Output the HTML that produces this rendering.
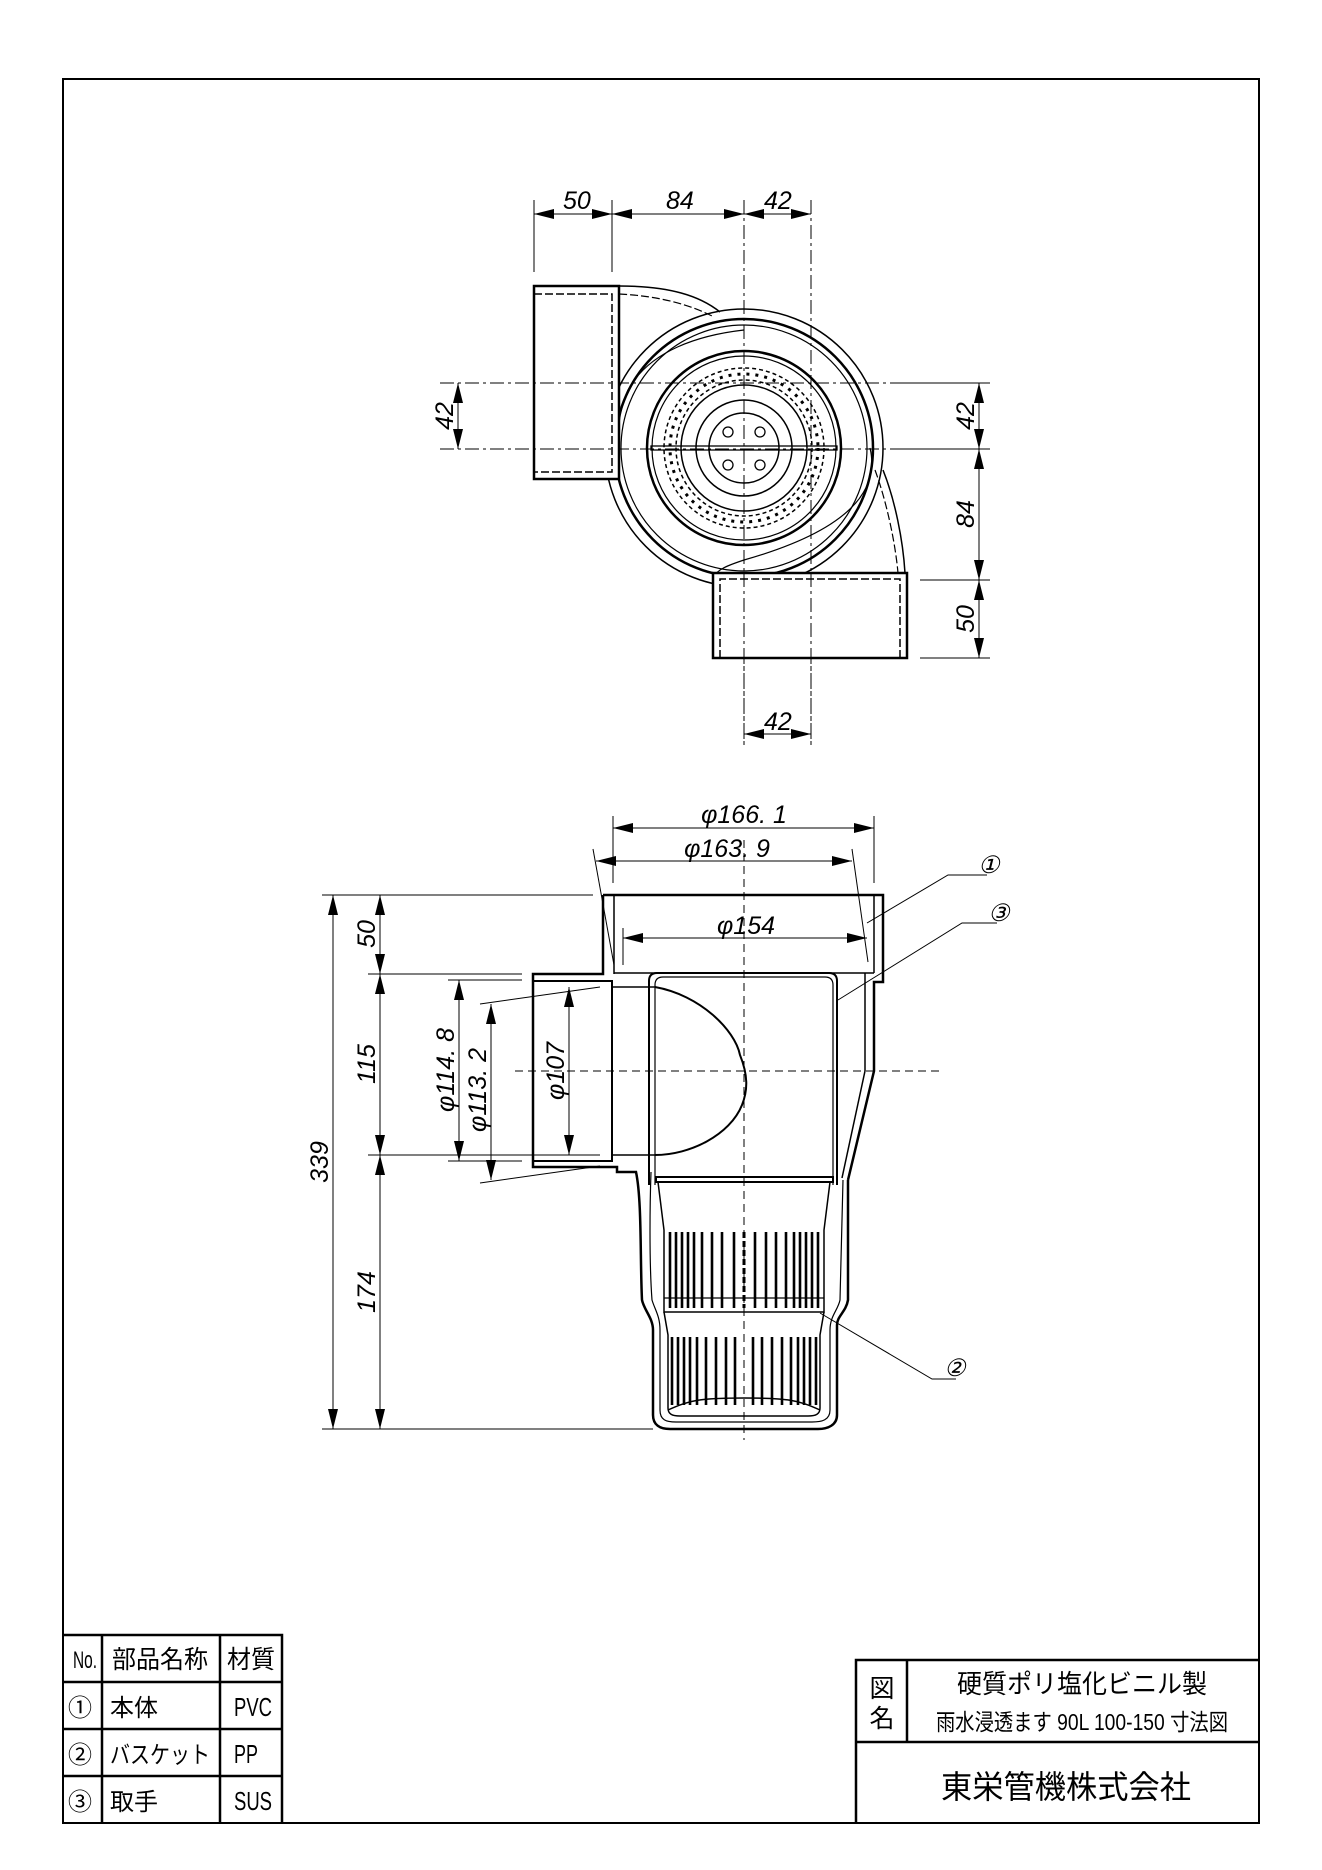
<!DOCTYPE html>
<html><head><meta charset="utf-8"><style>
html,body{margin:0;padding:0;background:#fff}
svg{display:block}
.t{font-family:"Liberation Sans",sans-serif;font-style:italic;font-size:25px;fill:#000}
.j{font-family:"Liberation Sans","Noto Sans CJK JP",sans-serif;fill:#000}
</style></head><body>
<svg width="1322" height="1870" viewBox="0 0 1322 1870" xmlns="http://www.w3.org/2000/svg">
<defs>
<marker id="a" viewBox="0 0 20 10" refX="20" refY="5" markerWidth="20" markerHeight="10" markerUnits="userSpaceOnUse" orient="auto-start-reverse"><path d="M0,0 L20,5 L0,10 z" fill="#000"/></marker>
</defs>
<rect x="63" y="79" width="1196" height="1744" fill="none" stroke="#000" stroke-width="2"/>

<g fill="none" stroke="#000">
<line x1="440" y1="449" x2="990" y2="449" stroke-width="1" stroke-dasharray="14,4,3,4"/>
<line x1="440" y1="383" x2="990" y2="383" stroke-width="1" stroke-dasharray="14,4,3,4"/>
<line x1="744" y1="200" x2="744" y2="745" stroke-width="1" stroke-dasharray="14,4,3,4"/>
<line x1="811" y1="200" x2="811" y2="745" stroke-width="1" stroke-dasharray="14,4,3,4"/>
<line x1="900" y1="383" x2="990" y2="383" stroke-width="1"/>
<line x1="900" y1="449" x2="990" y2="449" stroke-width="1"/>
<line x1="920" y1="580" x2="990" y2="580" stroke-width="1"/>
<line x1="920" y1="658" x2="990" y2="658" stroke-width="1"/>
<line x1="534" y1="200" x2="534" y2="272" stroke-width="1"/>
<line x1="612" y1="200" x2="612" y2="272" stroke-width="1"/>
<path d="M619,286 C670,286 700,296 720,312" stroke-width="1.5"/>
<path d="M619,294 C660,296 690,305 712,316" stroke-width="1.2" stroke-dasharray="8,3"/>
<path d="M883,470 C895,500 903,540 905,573" stroke-width="1.5"/>
<path d="M875,470 C886,500 895,540 898,573" stroke-width="1.2" stroke-dasharray="8,3"/>
<circle cx="744" cy="448" r="139" stroke-width="1.5"/>
<circle cx="744" cy="448" r="129" stroke-width="2.5"/>
<circle cx="744" cy="448" r="123" stroke-width="1.2"/>
<path d="M744,330 C700,335 650,350 628,390 C615,420 620,440 614,460" stroke-width="1.2"/>
<path d="M870,448 C880,490 850,530 744,560 C720,568 720,570 714,575" stroke-width="1.2"/>
<circle cx="744" cy="448" r="97" stroke-width="2.5"/>
<circle cx="744" cy="448" r="92" stroke-width="1.2"/>
<circle cx="744" cy="448" r="80" stroke-width="1.5" stroke-dasharray="4,3"/>
<circle cx="744" cy="448" r="74" stroke-width="3" stroke-dasharray="3,6"/>
<circle cx="744" cy="448" r="68" stroke-width="1.5" stroke-dasharray="4,3"/>
<circle cx="744" cy="448" r="63" stroke-width="1.5"/>
<circle cx="744" cy="448" r="48" stroke-width="1.5"/>
<circle cx="744" cy="448" r="35" stroke-width="1.5"/>
<circle cx="728" cy="432" r="5" stroke-width="1.3"/>
<circle cx="760" cy="432" r="5" stroke-width="1.3"/>
<circle cx="728" cy="465" r="5" stroke-width="1.3"/>
<circle cx="760" cy="465" r="5" stroke-width="1.3"/>
<rect x="651" y="446" width="186" height="4" stroke-width="1.3"/>
<rect x="534" y="286" width="85" height="193" fill="#fff" stroke-width="2.5"/>
<path d="M534,294 H612 V472 H534" stroke-width="1.5" stroke-dasharray="8,3"/>
<rect x="713" y="573" width="194" height="85" fill="#fff" stroke-width="2.5"/>
<path d="M720,658 V579 H900 V658" stroke-width="1.5" stroke-dasharray="8,3"/>
<line x1="744" y1="573" x2="744" y2="745" stroke-width="1" stroke-dasharray="14,4,3,4"/>
<line x1="811" y1="573" x2="811" y2="745" stroke-width="1" stroke-dasharray="14,4,3,4"/>
<line x1="440" y1="449" x2="612" y2="449" stroke-width="1" stroke-dasharray="14,4,3,4"/>
<line x1="440" y1="383" x2="612" y2="383" stroke-width="1" stroke-dasharray="14,4,3,4"/>
<line x1="534" y1="214" x2="612" y2="214" stroke-width="1" marker-start="url(#a)" marker-end="url(#a)"/>
<line x1="612" y1="214" x2="744" y2="214" stroke-width="1" marker-start="url(#a)" marker-end="url(#a)"/>
<line x1="744" y1="214" x2="811" y2="214" stroke-width="1" marker-start="url(#a)" marker-end="url(#a)"/>
<line x1="744" y1="734" x2="811" y2="734" stroke-width="1" marker-start="url(#a)" marker-end="url(#a)"/>
<line x1="458" y1="383" x2="458" y2="449" stroke-width="1" marker-start="url(#a)" marker-end="url(#a)"/>
<line x1="979" y1="383" x2="979" y2="449" stroke-width="1" marker-start="url(#a)" marker-end="url(#a)"/>
<line x1="979" y1="449" x2="979" y2="580" stroke-width="1" marker-start="url(#a)" marker-end="url(#a)"/>
<line x1="979" y1="580" x2="979" y2="658" stroke-width="1" marker-start="url(#a)" marker-end="url(#a)"/>

<line x1="744" y1="840" x2="744" y2="1440" stroke-width="1" stroke-dasharray="8,5"/>
<line x1="515" y1="1071" x2="940" y2="1071" stroke-width="1" stroke-dasharray="8,5"/>
<line x1="322" y1="895" x2="593" y2="895" stroke-width="1"/>
<line x1="368" y1="974" x2="522" y2="974" stroke-width="1"/>
<line x1="368" y1="1155" x2="600" y2="1155" stroke-width="1"/>
<line x1="322" y1="1429" x2="653" y2="1429" stroke-width="1"/>
<line x1="448" y1="980" x2="522" y2="980" stroke-width="1"/>
<line x1="448" y1="1161" x2="522" y2="1161" stroke-width="1"/>
<line x1="480" y1="1004" x2="600" y2="987" stroke-width="1"/>
<line x1="480" y1="1183" x2="600" y2="1166" stroke-width="1"/>
<line x1="613" y1="816" x2="613" y2="883" stroke-width="1"/>
<line x1="874" y1="816" x2="874" y2="883" stroke-width="1"/>
<line x1="593" y1="849" x2="614" y2="965" stroke-width="1"/>
<line x1="852" y1="849" x2="868" y2="962" stroke-width="1"/>
<line x1="623" y1="928" x2="623" y2="965" stroke-width="1"/>
<line x1="613" y1="828" x2="874" y2="828" stroke-width="1" marker-start="url(#a)" marker-end="url(#a)"/>
<line x1="596" y1="861" x2="852" y2="861" stroke-width="1" marker-start="url(#a)" marker-end="url(#a)"/>
<line x1="623" y1="938" x2="867" y2="938" stroke-width="1" marker-start="url(#a)" marker-end="url(#a)"/>
<line x1="333" y1="895" x2="333" y2="1429" stroke-width="1" marker-start="url(#a)" marker-end="url(#a)"/>
<line x1="380" y1="895" x2="380" y2="974" stroke-width="1" marker-start="url(#a)" marker-end="url(#a)"/>
<line x1="380" y1="974" x2="380" y2="1155" stroke-width="1" marker-start="url(#a)" marker-end="url(#a)"/>
<line x1="380" y1="1155" x2="380" y2="1429" stroke-width="1" marker-start="url(#a)" marker-end="url(#a)"/>
<line x1="459" y1="980" x2="459" y2="1161" stroke-width="1" marker-start="url(#a)" marker-end="url(#a)"/>
<line x1="491" y1="1004" x2="491" y2="1180" stroke-width="1" marker-start="url(#a)" marker-end="url(#a)"/>
<line x1="569" y1="987" x2="569" y2="1155" stroke-width="1" marker-start="url(#a)" marker-end="url(#a)"/>
<path d="M603,895 H883 V982 H874 V1071 L848,1180" stroke-width="2.5"/>
<path d="M603,895 V974 H533 V1167 H617 L617,1172 H636 C642,1200 640,1260 642,1300 C644,1310 653,1318 653,1330 V1415 C653,1425 660,1429 670,1429 H818 C828,1429 837,1425 837,1415 V1325 C837,1316 846,1312 848,1300 L848,1180" stroke-width="2.5"/>
<line x1="614" y1="895" x2="614" y2="974" stroke-width="1.5"/>
<line x1="874" y1="895" x2="874" y2="973" stroke-width="1.5"/>
<line x1="614" y1="973" x2="874" y2="973" stroke-width="1.5"/>
<line x1="865" y1="973" x2="865" y2="1071" stroke-width="1.5"/>
<line x1="865" y1="1071" x2="842" y2="1178" stroke-width="1.5"/>
<path d="M533,981 H612 V1161 H533" stroke-width="2"/>
<path d="M612,987 H655 M612,1155 H655" stroke-width="1.5"/>
<path d="M651,1172 C650,1200 649,1260 652,1300 C655,1310 660,1316 660,1330 V1410 C660,1420 666,1422 676,1422 H812 C822,1422 830,1420 830,1410 V1330 C830,1316 838,1310 840,1300 L843,1180" stroke-width="1.2"/>
<path d="M655,987 C700,995 735,1030 740,1055 C748,1075 748,1090 742,1105 C730,1135 690,1155 655,1155" stroke-width="2"/>
<path d="M649,1185 V981 Q649,973 657,973 H829 Q837,973 837,981 V1185" stroke-width="2"/>
<path d="M655,1185 V985 Q655,977 663,977 H825 Q833,977 833,985 V1185" stroke-width="1.2"/>
<rect x="656" y="1177" width="177" height="5" stroke-width="2"/>
<path d="M658,1182 L664,1230 V1312 H824 V1230 L830,1182" stroke-width="1.5"/>
<path d="M664,1312 L668,1335 V1408 C668,1414 672,1416 680,1416 H808 C816,1416 820,1414 820,1408 V1335 L824,1312" stroke-width="1.5"/>
<path d="M668,1410 C690,1400 700,1398 744,1398 C788,1398 798,1400 820,1410" stroke-width="1.5"/>
<g stroke-width="2.6">
<path d="M670,1232V1308 M676,1232V1308 M682,1232V1308 M688,1232V1308 M694,1232V1308 M702,1232V1308 M712,1232V1308 M722,1232V1308 M734,1232V1308 M755,1232V1308 M766,1232V1308 M776,1232V1308 M786,1232V1308 M794,1232V1308 M800,1232V1308 M806,1232V1308 M812,1232V1308 M818,1232V1308"/>
<path d="M672,1337V1405 M678,1337V1405 M684,1337V1405 M690,1337V1405 M697,1337V1405 M706,1337V1405 M716,1337V1405 M726,1337V1405 M735,1337V1405 M753,1337V1405 M762,1337V1405 M772,1337V1405 M782,1337V1405 M791,1337V1405 M798,1337V1405 M804,1337V1405 M810,1337V1405 M816,1337V1405"/>
</g>
<line x1="744" y1="1232" x2="744" y2="1308" stroke-width="3" stroke-dasharray="6,3"/>
<line x1="664" y1="1298" x2="824" y2="1298" stroke-width="1.2"/>
<path d="M867,923 L948,875 H987" stroke-width="1"/>
<path d="M838,1000 L962,923 H997" stroke-width="1"/>
<path d="M820,1313 L932,1379 H956" stroke-width="1"/>

<g stroke-width="2.5">
<path d="M63,1635 H282 V1823 M63,1682 H282 M63,1729 H282 M63,1776 H282 M102,1635 V1823 M220,1635 V1823"/>
<path d="M856,1823 V1660 H1259 M856,1742 H1259 M907,1660 V1742"/>
</g>
</g>

<g class="t">
<text x="563" y="209">50</text>
<text x="666" y="209">84</text>
<text x="764" y="209">42</text>
<text x="764" y="730">42</text>
<text transform="translate(453,416) rotate(-90)" text-anchor="middle">42</text>
<text transform="translate(974,416) rotate(-90)" text-anchor="middle">42</text>
<text transform="translate(974,514) rotate(-90)" text-anchor="middle">84</text>
<text transform="translate(974,619) rotate(-90)" text-anchor="middle">50</text>
<text x="744" y="823" text-anchor="middle">φ166. 1</text>
<text x="727" y="857" text-anchor="middle">φ163. 9</text>
<text x="746" y="934" text-anchor="middle">φ154</text>
<text transform="translate(328,1162) rotate(-90)" text-anchor="middle">339</text>
<text transform="translate(375,934) rotate(-90)" text-anchor="middle">50</text>
<text transform="translate(375,1064) rotate(-90)" text-anchor="middle">115</text>
<text transform="translate(375,1292) rotate(-90)" text-anchor="middle">174</text>
<text transform="translate(454,1070) rotate(-90)" text-anchor="middle">φ114. 8</text>
<text transform="translate(486,1090) rotate(-90)" text-anchor="middle">φ113. 2</text>
<text transform="translate(564,1071) rotate(-90)" text-anchor="middle">φ107</text>
<text x="978" y="873" font-size="24">①</text>
<text x="988" y="921" font-size="24">③</text>
<text x="944" y="1376" font-size="24">②</text>
</g>
<g class="j">
<text x="73" y="1668" font-size="24" textLength="24" lengthAdjust="spacingAndGlyphs">No.</text>
<text x="112" y="1668" font-size="25" textLength="96" lengthAdjust="spacingAndGlyphs">部品名称</text>
<text x="227" y="1668" font-size="25" textLength="48" lengthAdjust="spacingAndGlyphs">材質</text>
<text x="68" y="1716" font-size="24">①</text>
<text x="110" y="1716" font-size="24">本体</text>
<text x="234" y="1716" font-size="26" textLength="38" lengthAdjust="spacingAndGlyphs">PVC</text>
<text x="68" y="1763" font-size="24">②</text>
<text x="110" y="1763" font-size="24" textLength="100" lengthAdjust="spacingAndGlyphs">バスケット</text>
<text x="234" y="1763" font-size="26" textLength="24" lengthAdjust="spacingAndGlyphs">PP</text>
<text x="68" y="1810" font-size="24">③</text>
<text x="110" y="1810" font-size="24">取手</text>
<text x="234" y="1810" font-size="26" textLength="38" lengthAdjust="spacingAndGlyphs">SUS</text>
<text x="882" y="1697" font-size="25" text-anchor="middle">図</text>
<text x="882" y="1727" font-size="25" text-anchor="middle">名</text>
<text x="1082" y="1693" font-size="26" text-anchor="middle" textLength="250" lengthAdjust="spacingAndGlyphs">硬質ポリ塩化ビニル製</text>
<text x="1082" y="1730" font-size="23" text-anchor="middle" textLength="292" lengthAdjust="spacingAndGlyphs">雨水浸透ます 90L 100-150 寸法図</text>
<text x="1066" y="1798" font-size="32" text-anchor="middle" textLength="250" lengthAdjust="spacingAndGlyphs">東栄管機株式会社</text>
</g>
</svg>
</body></html>
